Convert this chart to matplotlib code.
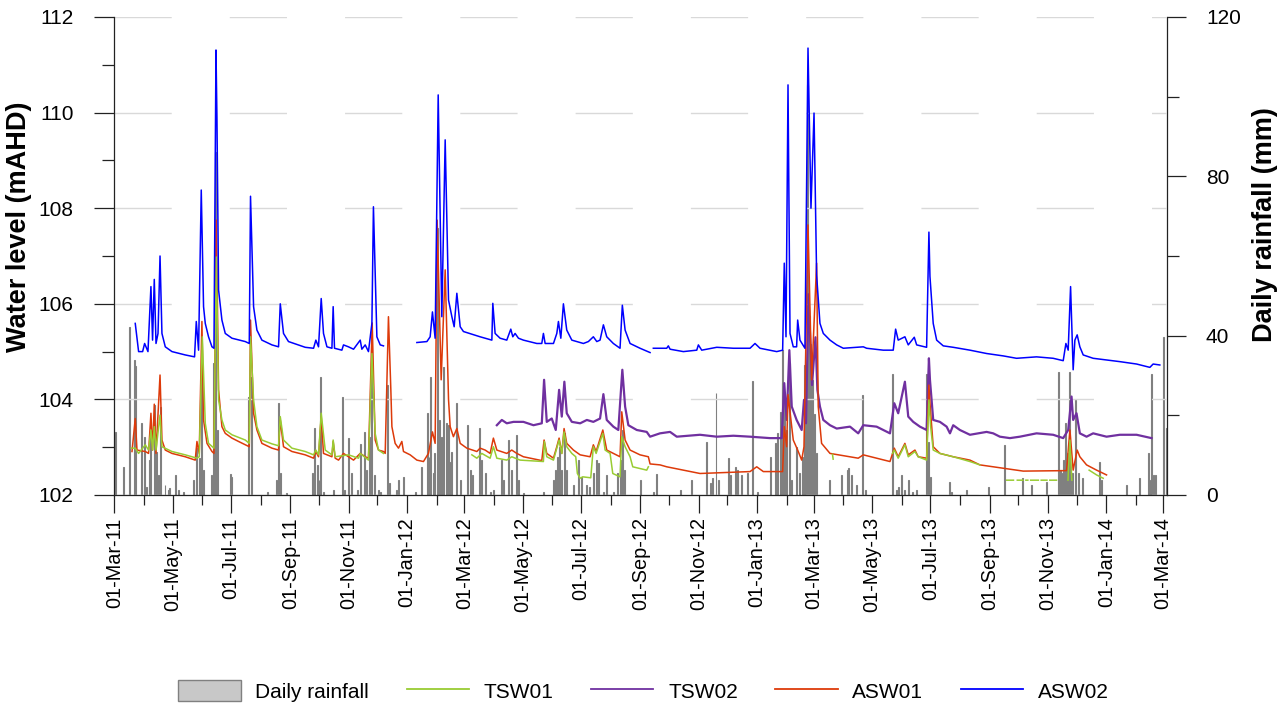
import numpy as np
import matplotlib
matplotlib.use('Agg')
import matplotlib.pyplot as plt
import matplotlib.dates as mdates
from matplotlib.ticker import MultipleLocator
from matplotlib.patches import Patch
from matplotlib.lines import Line2D

plt.rcParams['font.family'] = ['Liberation Sans', 'DejaVu Sans']

# ---------------- data (days since 01-Mar-2011) ----------------
START = '2011-03-01'
nan = float('nan')

series_names = ['TSW01', 'TSW02', 'ASW01', 'ASW02']

asw02_day = [21.9, 25.4, 29.6, 31.7, 35.2, 38.3, 40.0, 41.8, 43.6, 45.7,
             47.8, 49.8, 53.3, 60.3, 74.2, 83.9, 85.7, 88.1, 90.9, 93.3,
             95.1, 98.5, 102.1, 104.2, 106.3, 107.3, 109.0, 112.5, 116.0, 123.0,
             136.9, 141.1, 142.4, 145.6, 149.1, 154.3, 164.8, 171.7, 173.5, 176.9,
             182.1, 199.6, 208.3, 210.7, 213.5, 216.3, 218.7, 222.3, 227.5, 228.8,
             230.2, 237.9, 239.6, 244.8, 250.1, 257.1, 258.8, 262.3, 265.7, 269.3,
             270.9, 274.5, 278.0, 281.4, 300.0,
             316.3, 326.8, 330.2, 332.6, 335.4, 338.6, 342.4, 345.9, 349.4, 352.9,
             355.3, 358.1, 361.6, 365.0, 382.4, 394.7, 395.7, 398.1, 403.3, 410.3,
             414.5, 416.6, 419.0, 422.5, 427.7, 441.7, 446.9, 448.6, 450.4, 459.1,
             462.6, 464.3, 466.8, 469.5, 473.0, 478.3, 490.4, 495.6, 500.8, 504.4,
             507.8, 511.3, 514.8, 521.7, 528.7, 531.1, 534.0, 539.2, 549.6, 560.1,
             562.0,
             563.5, 577.5, 579.2, 581.0, 594.9, 608.9, 610.6, 614.1, 629.8, 647.2,
             664.6, 669.8, 675.0, 692.5, 698.7, 700.4, 702.2, 704.3, 706.4, 709.8,
             713.3, 714.4, 716.8, 722.0, 725.2, 728.3, 731.5, 734.2, 737.7, 741.2,
             748.2, 755.2, 762.1, 783.0, 786.5, 803.9, 814.3, 816.8, 819.5, 826.5,
             830.0, 836.3, 838.8, 849.2, 851.6, 852.7, 854.4, 856.1, 859.7, 866.6,
             877.0, 894.5, 911.9, 929.3, 943.2, 964.1, 981.5, 992.0, 994.8, 997.2,
             999.7, 1001.4, 1002.4, 1004.2, 1006.6, 1009.4, 1012.9, 1023.3, 1051.2, 1068.7,
             1082.6, 1086.0, 1093.0]
asw02_level = [105.59, 105.00, 105.00, 105.17, 105.00, 106.36, 105.24, 106.51, 105.17, 105.38,
               107.00, 105.38, 105.10, 105.00, 104.93, 104.89, 105.63, 105.03, 108.38, 105.94,
               105.59, 105.31, 105.10, 105.07, 111.31, 109.90, 106.29, 105.66, 105.38, 105.28,
               105.21, 105.17, 108.25, 105.94, 105.45, 105.24, 105.14, 105.10, 106.00, 105.38,
               105.21, 105.09, 105.07, 105.24, 105.10, 106.11, 105.38, 105.10, 105.07, 105.94,
               105.07, 105.03, 105.14, 105.10, 105.05, 105.24, 105.05, 105.14, 105.00, 105.59,
               108.03, 105.31, 105.14, 105.12, nan,
               105.19, 105.21, 105.31, 105.83, 105.28, 110.37, 105.73, 109.43, 106.08, 105.73,
               105.52, 106.22, 105.52, 105.42, 105.31, 105.24, 106.01, 105.38, 105.28, 105.24,
               105.47, 105.31, 105.38, 105.28, 105.24, 105.17, 105.17, 105.38, 105.17, 105.17,
               105.38, 105.63, 105.28, 106.00, 105.45, 105.24, 105.17, 105.21, 105.31, 105.21,
               105.24, 105.56, 105.31, 105.17, 105.07, 105.97, 105.45, 105.17, 105.07, 104.98,
               nan,
               105.07, 105.07, 105.12, 105.05, 105.00, 105.03, 105.14, 105.03, 105.09, 105.07,
               105.07, 105.17, 105.07, 105.00, 105.03, 106.85, 105.31, 110.58, 105.38, 105.10,
               105.10, 105.66, 105.24, 105.07, 111.35, 108.00, 109.99, 106.60, 105.59, 105.38,
               105.24, 105.14, 105.07, 105.10, 105.07, 105.03, 105.03, 105.47, 105.24, 105.31,
               105.14, 105.30, 105.14, 105.09, 107.50, 106.57, 106.08, 105.59, 105.24, 105.12,
               105.09, 105.03, 104.96, 104.91, 104.86, 104.89, 104.86, 104.81, 105.17, 105.03,
               106.36, 105.24, 104.62, 105.24, 105.35, 105.10, 104.93, 104.86, 104.79, 104.74,
               104.67, 104.74, 104.72]

asw01_day = [18.5, 21.9, 23.7, 32.4, 35.8, 38.3, 40.0, 41.8, 43.6, 47.8,
             49.8, 53.3, 60.3, 74.2, 84.6, 86.4, 88.8, 91.6, 93.3, 96.9,
             102.1, 104.2, 106.6, 109.0, 112.5, 116.0, 123.0, 129.9, 141.1, 142.4,
             145.6, 149.1, 154.3, 164.8, 171.7, 173.5, 176.9, 185.7, 199.6, 208.3,
             210.7, 213.5, 216.3, 218.7, 227.5, 228.8, 230.9, 234.4, 239.6, 244.8,
             250.1, 257.1, 262.3, 265.7, 269.6, 272.7, 276.2, 281.4, 283.2, 286.6,
             289.1, 290.2, 293.6, 297.1, 300.6, 302.3, 309.3, 316.3, 323.2, 328.4,
             332.6, 335.4, 337.5, 341.7, 345.9, 349.4, 351.1, 354.5, 358.1, 361.6,
             368.5, 379.0, 382.4, 387.7, 392.9, 396.3, 399.9, 410.3, 415.5, 420.8,
             427.7, 446.9, 449.3, 452.1, 459.1, 462.6, 465.0, 467.8, 470.2, 473.0,
             480.0, 487.0, 497.4, 500.8, 503.7, 510.7, 514.8, 528.7, 530.5, 534.0,
             539.2, 549.6, 558.3, 560.1, 570.5, 577.5, 594.9, 612.3, 664.6, 671.6,
             678.5, 698.7, 700.4, 702.9, 704.3, 709.8, 714.4, 718.6, 721.0, 725.2,
             729.0, 734.2, 735.9, 739.4, 748.2, 769.1, 777.7, 783.0, 796.9, 810.9,
             815.4, 819.5, 826.5, 830.0, 837.0, 840.4, 849.2, 851.6, 852.7, 856.1,
             863.1, 877.0, 894.5, 904.9, 929.3, 943.2, 950.2, 995.5, 999.0, 1002.4,
             1006.6, 1009.4, 1016.4, 1026.9, 1037.3]
asw01_level = [102.91, 103.60, 102.94, 102.91, 102.87, 103.71, 102.94, 103.90, 102.87, 104.51,
               103.15, 102.94, 102.87, 102.80, 102.73, 103.12, 102.87, 105.63, 103.57, 103.08,
               102.91, 102.87, 107.75, 104.20, 103.43, 103.29, 103.19, 103.12, 103.01, 105.66,
               103.71, 103.36, 103.08, 102.98, 102.94, 103.57, 103.01, 102.91, 102.84, 102.77,
               102.91, 102.80, 103.64, 102.87, 102.80, 103.12, 102.77, 102.73, 102.87, 102.80,
               102.73, 102.87, 102.80, 102.77, 105.60, 103.15, 102.94, 102.91, 102.87, 105.73,
               104.20, 103.43, 103.08, 102.98, 103.12, 102.91, 102.84, 102.73, 102.70, 102.87,
               103.32, 103.08, 107.75, 104.41, 106.71, 104.00, 103.43, 103.22, 103.39, 103.08,
               102.98, 102.91, 102.98, 102.94, 102.87, 103.19, 102.94, 102.87, 102.94, 102.87,
               102.80, 102.72, 103.15, 102.87, 102.77, 103.01, 103.19, 102.87, 103.39, 103.08,
               102.94, 102.84, 102.80, 103.05, 102.91, 103.36, 102.94, 102.80, 103.74, 103.15,
               102.94, 102.84, 102.80, 102.65, 102.63, 102.59, 102.52, 102.45, 102.49, 102.59,
               102.49, 102.49, 103.43, 103.01, 104.10, 103.15, 102.94, 102.73, 103.01, 107.65,
               104.41, 106.85, 103.85, 103.08, 102.87, 102.80, 102.77, 102.84, 102.77, 102.70,
               102.98, 102.80, 103.08, 102.84, 102.94, 102.80, 102.77, 104.30, 103.92, 103.01,
               102.87, 102.80, 102.73, 102.63, 102.56, 102.52, 102.50, 102.51, 103.36, 102.52,
               102.94, 102.80, 102.63, 102.52, 102.42]

tsw01_day = [17.8, 21.9, 25.4, 32.4, 35.8, 38.3, 40.0, 41.8, 43.6, 47.8,
             49.8, 60.3, 74.2, 86.4, 88.8, 92.0, 95.1, 98.5, 104.2, 106.6,
             109.0, 112.5, 116.0, 123.0, 136.9, 141.1, 142.4, 145.6, 149.1, 154.3,
             164.8, 171.7, 173.5, 176.9, 185.7, 199.6, 208.3, 210.7, 213.5, 216.3,
             220.5, 227.5, 228.8, 230.9, 244.8, 255.3, 257.1, 265.7, 269.3, 272.7,
             276.2, 281.4, 330.0,
             373.8, 379.0, 384.2, 392.9, 396.3, 399.9, 410.3, 415.5, 424.2, 448.6,
             449.6, 452.1, 459.1, 465.0, 467.8, 470.2, 473.0, 478.3, 482.4, 484.1,
             487.0, 489.7, 498.1, 500.8, 503.7, 510.7, 513.1, 518.3, 521.1, 528.7,
             530.5, 534.0, 539.2, 542.0, 556.6, 558.3, 650.0,
             750.8, 751.5, 780.0,
             813.6, 815.4, 819.5, 826.5, 830.0, 837.0, 840.4, 849.2, 851.6, 853.4, 856.1,
             863.1, 877.0, 894.5, 904.9, 920.0,
             933.0, 940.0, 942.0, 944.0, 950.0, 951.5, 953.0, 955.0, 956.5, 958.0,
             966.0, 967.5, 969.0, 975.0, 976.5, 978.0, 985.0, 990.0,
             997.0, 999.0, 1001.0, 1010.0,
             1019.1, 1026.9, 1033.8]
tsw01_level = [102.98, 102.98, 102.87, 103.05, 102.94, 103.36, 102.94, 103.43, 102.94, 103.67,
               103.01, 102.91, 102.84, 102.77, 102.80, 105.31, 103.50, 103.08, 102.98, 106.98,
               103.99, 103.57, 103.36, 103.26, 103.15, 103.08, 105.31, 103.99, 103.43, 103.15,
               103.07, 103.03, 103.64, 103.15, 102.98, 102.91, 102.84, 102.94, 102.84, 103.71,
               102.94, 102.84, 103.15, 102.80, 102.84, 102.77, 102.87, 102.73, 104.96, 103.29,
               102.94, 102.87, nan,
               102.84, 102.77, 102.87, 102.77, 103.01, 102.77, 102.73, 102.80, 102.73, 102.70,
               103.12, 102.80, 102.73, 103.15, 102.87, 103.32, 103.01, 102.87, 102.80, 102.45,
               102.35, 102.38, 102.36, 103.01, 102.87, 103.29, 102.94, 102.87, 102.45, 102.38,
               103.22, 103.01, 102.80, 102.59, 102.52, 102.59, nan,
               102.85, 102.75, nan,
               102.87, 102.94, 102.77, 103.05, 102.80, 102.91, 102.80, 102.73, 103.99, 103.43, 102.94,
               102.87, 102.80, 102.70, 102.63, nan,
               102.31, 102.31, nan, 102.31, 102.31, nan, 102.31, 102.31, nan, 102.31,
               102.31, nan, 102.31, 102.31, nan, 102.31, 102.31, nan,
               102.31, 103.15, 102.31, nan,
               102.52, 102.42, 102.35]

tsw02_day = [399.9, 405.1, 410.3, 417.3, 427.7, 438.2, 446.9, 449.3, 452.1, 457.3,
             461.5, 465.0, 467.8, 470.5, 473.0, 478.3, 487.0, 494.0, 500.8, 507.8,
             511.3, 514.8, 521.7, 526.9, 531.1, 534.0, 537.4, 546.2, 556.6, 560.1,
             570.5, 581.0, 588.0, 612.3, 629.8, 647.2, 664.6, 685.5, 697.7, 700.4,
             702.9, 705.7, 708.2, 713.3, 718.6, 721.0, 723.1, 725.7, 729.4, 733.0,
             735.0, 737.7, 741.2, 748.2, 755.2, 769.1, 777.7, 783.0, 796.9, 810.9,
             815.4, 819.5, 826.5, 830.0, 835.2, 842.2, 849.2, 851.6, 852.7, 856.1,
             863.1, 870.1, 873.6, 877.0, 884.0, 894.5, 911.9, 918.8, 925.8, 936.3,
             946.7, 964.1, 981.5, 992.0, 997.2, 1000.7, 1002.4, 1005.9, 1009.4, 1016.4,
             1023.3, 1037.3, 1051.2, 1068.7, 1084.3]
tsw02_level = [103.46, 103.57, 103.50, 103.53, 103.53, 103.46, 103.50, 104.41, 103.53, 103.60,
               103.36, 104.20, 103.64, 104.37, 103.71, 103.53, 103.50, 103.57, 103.53, 103.60,
               104.11, 103.57, 103.43, 103.36, 104.62, 103.85, 103.46, 103.36, 103.32, 103.22,
               103.29, 103.32, 103.22, 103.26, 103.22, 103.24, 103.22, 103.19, 103.19, 104.34,
               103.57, 105.03, 103.85, 103.57, 103.36, 103.99, 103.50, 106.20, 104.30, 105.30,
               104.20, 103.85, 103.57, 103.46, 103.39, 103.43, 103.29, 103.46, 103.43, 103.29,
               103.92, 103.71, 104.37, 103.64, 103.53, 103.43, 103.36, 104.86, 104.41, 103.57,
               103.53, 103.43, 103.29, 103.46, 103.36, 103.26, 103.32, 103.29, 103.22, 103.19,
               103.22, 103.29, 103.26, 103.19, 103.36, 104.06, 103.57, 103.71, 103.29, 103.22,
               103.29, 103.22, 103.26, 103.26, 103.19]

rain_day = [0, 1, 10, 16, 21, 22, 28, 32, 34, 37, 38, 42, 44, 46, 48, 53, 57, 58, 64, 67, 72,
            83, 86, 89, 91, 93, 102, 104, 106, 108, 121, 123, 140, 143, 160, 170, 172, 174, 180,
            207, 209, 212, 214, 216, 219, 229, 239, 241, 245, 248, 254, 257, 262, 264, 267, 269,
            272, 276, 278,
            286, 288, 295, 297, 302, 315, 321, 327, 329, 331, 334, 335, 338, 340, 342, 344, 347,
            349, 351, 353, 358, 362,
            369, 372, 374, 382, 384, 388, 393, 396, 405, 407, 412, 415, 420, 423, 428, 449,
            459, 461, 463, 465, 468, 471, 473, 480, 485, 488, 494, 497, 501, 504, 506, 511, 515,
            522, 526, 529, 531, 533, 550,
            564, 567, 592, 603, 619, 623, 625, 629, 632, 642, 644, 649, 651, 652, 656, 662, 667, 672,
            686, 691, 693, 696, 698, 699, 701, 703, 706, 708, 713, 716, 719, 722, 723, 725, 727,
            728, 730, 732, 734,
            748, 760, 766, 768, 771, 776, 782, 785, 814, 818, 820, 823, 826, 830, 834, 839,
            849, 851, 853, 873, 875, 891, 914, 931, 949, 959, 975, 987, 989, 990, 992, 994, 996,
            999, 1001, 1002, 1005, 1008, 1012, 1030, 1032, 1058, 1072, 1081, 1083, 1084, 1086,
            1088, 1097, 1100]
rain_mm = [6.3, 15.9, 7.1, 42.3, 33.9, 32.3, 18.2, 14.6, 2.0, 8.8, 14.6, 22.6, 10.9, 5.0, 22.2, 2.5, 1.3, 1.7, 5.0, 1.3, 0.8,
           3.8, 11.7, 9.2, 36.4, 6.3, 5.0, 33.1, 86.2, 16.3, 5.3, 4.6, 24.7, 29.7, 0.8, 3.8, 23.0, 5.5, 0.4,
           5.5, 16.7, 7.5, 3.8, 29.7, 0.8, 1.3, 24.7, 1.3, 14.2, 5.5, 1.3, 12.9, 15.9, 6.3, 14.6, 36.4,
           5.0, 1.3, 0.8,
           27.6, 2.9, 1.3, 3.8, 4.6, 0.8, 7.1, 20.5, 9.6, 29.7, 5.5, 10.5, 67.0, 18.8, 14.6, 32.2, 18.0,
           17.6, 8.4, 10.9, 23.0, 3.8,
           17.6, 6.3, 5.0, 16.7, 8.8, 5.5, 0.8, 1.3, 8.8, 3.8, 13.8, 6.3, 15.1, 3.8, 0.4, 0.8,
           3.8, 6.3, 9.6, 12.1, 6.3, 15.5, 6.3, 2.5, 8.8, 4.6, 2.5, 2.1, 5.5, 8.8, 8.0, 0.8, 5.0,
           0.8, 5.5, 8.8, 16.3, 6.3, 3.8,
           0.8, 5.3, 1.3, 3.8, 13.4, 2.9, 4.2, 25.5, 3.8, 9.2, 5.0, 7.1, 6.3, 5.0, 5.0, 5.5, 28.5, 0.8,
           9.6, 13.0, 15.5, 20.9, 28.0, 36.4, 23.8, 16.3, 33.1, 3.8, 12.1, 5.5, 9.6, 32.6, 20.5, 102.9, 45.0,
           38.0, 28.9, 20.4, 10.5,
           3.8, 5.0, 6.3, 6.7, 5.0, 2.5, 25.1, 1.3, 30.5, 1.3, 2.1, 5.0, 1.3, 3.8, 0.8, 1.3,
           30.5, 13.4, 4.6, 3.3, 0.8, 1.3, 2.1, 12.6, 4.2, 2.5, 3.3, 30.8, 6.3, 5.5, 8.8, 18.0, 10.5,
           30.8, 3.8, 5.5, 23.8, 5.5, 4.2, 8.4, 3.8, 2.5, 4.2, 10.5, 3.8, 30.3, 5.0,
           5.0, 39.7, 16.7]

level_ticks = [102, 104, 106, 108, 110, 112]
rain_ticks = [0, 40, 80, 120]

colors = {'TSW01': '#99cc33', 'TSW02': '#7030a0', 'ASW01': '#dd3a0a', 'ASW02': '#0000ff'}

# ---------------- figure ----------------
base = mdates.date2num(np.datetime64(START))


def to_x(days):
    return base + np.asarray(days, dtype=float)


fig = plt.figure(figsize=(12.87, 7.11), dpi=100)
ax = fig.add_axes([114.3 / 1287, 1 - 495 / 711, (1167 - 114.3) / 1287, (495 - 17) / 711])
ax2 = ax.twinx()
ax.set_zorder(ax2.get_zorder() + 1)
ax.patch.set_visible(False)

# rainfall bars
ax2.bar(to_x(rain_day), rain_mm, width=1.0, color='#c8c8c8', edgecolor='#808080',
        linewidth=0.8, align='center', zorder=2)

# water level lines
ax.plot(to_x(tsw02_day), tsw02_level, color=colors['TSW02'], lw=1.6, zorder=3)
ax.plot(to_x(asw01_day), asw01_level, color=colors['ASW01'], lw=1.1, zorder=4)
ax.plot(to_x(tsw01_day), tsw01_level, color=colors['TSW01'], lw=1.1, zorder=5)
ax.plot(to_x(asw02_day), asw02_level, color=colors['ASW02'], lw=1.1, zorder=6)

# axes limits / ticks
ax.set_xlim(base, base + 1100.5)
ax.set_ylim(102, 112)
ax2.set_ylim(0, 120)

ax.set_yticks(level_ticks)
ax.yaxis.set_minor_locator(MultipleLocator(1))
ax2.set_yticks(rain_ticks)
ax2.yaxis.set_minor_locator(MultipleLocator(20))

ax.xaxis.set_major_locator(mdates.MonthLocator(bymonth=[1, 3, 5, 7, 9, 11], bymonthday=1))
ax.xaxis.set_minor_locator(mdates.MonthLocator(bymonthday=1))
ax.xaxis.set_major_formatter(mdates.DateFormatter('%d-%b-%y'))

ax.tick_params(axis='y', which='major', direction='out', length=14.4, width=0.9,
               labelsize=15, pad=15, color='#222222')
ax.tick_params(axis='y', which='minor', direction='out', length=8.6, width=0.9, color='#222222')
ax2.tick_params(axis='y', which='major', direction='out', length=14, width=0.9,
                labelsize=15, pad=14, color='#222222')
ax2.tick_params(axis='y', which='minor', direction='out', length=8.6, width=0.9, color='#222222')
ax.tick_params(axis='x', which='major', direction='out', length=13, width=0.9,
               labelsize=14.3, pad=3, labelrotation=90, color='#222222')
ax.tick_params(axis='x', which='minor', direction='out', length=7, width=0.9, color='#222222')
ax2.tick_params(axis='x', which='both', length=0)

for s in ['top', 'right']:
    ax.spines[s].set_visible(False)
for s in ['top', 'left', 'bottom']:
    ax2.spines[s].set_visible(False)
for s in ['left', 'bottom']:
    ax.spines[s].set_linewidth(0.9)
    ax.spines[s].set_color('#222222')
ax2.spines['right'].set_linewidth(0.9)
ax2.spines['right'].set_color('#222222')

# dashed horizontal gridlines
ax.yaxis.grid(True, which='major', color='#d9d9d9', lw=1.0, linestyle=(0, (41.2, 41.8)))
ax.set_axisbelow(True)

# axis titles placed as in the reference
fig.text(19 / 1287, 1 - 227 / 711, 'Water level (mAHD)', rotation=90, ha='center', va='center',
         fontsize=19.5, fontweight='bold')
fig.text(1265 / 1287, 1 - 225 / 711, 'Daily rainfall (mm)', rotation=90, ha='center', va='center',
         fontsize=19.5, fontweight='bold')

# legend
handles = [Patch(facecolor='#c8c8c8', edgecolor='#808080', linewidth=1.0)]
labels = ['Daily rainfall']
for name in series_names:
    handles.append(Line2D([0], [0], color=colors[name], lw=1.3))
    labels.append(name)
fig.legend(handles, labels, loc='center', bbox_to_anchor=(0.5, 1 - 691 / 711), ncol=5,
           frameon=False, fontsize=15, handlelength=3.0, handleheight=1.15,
           columnspacing=1.8, handletextpad=0.7)

fig.savefig('out.png', dpi=100)
